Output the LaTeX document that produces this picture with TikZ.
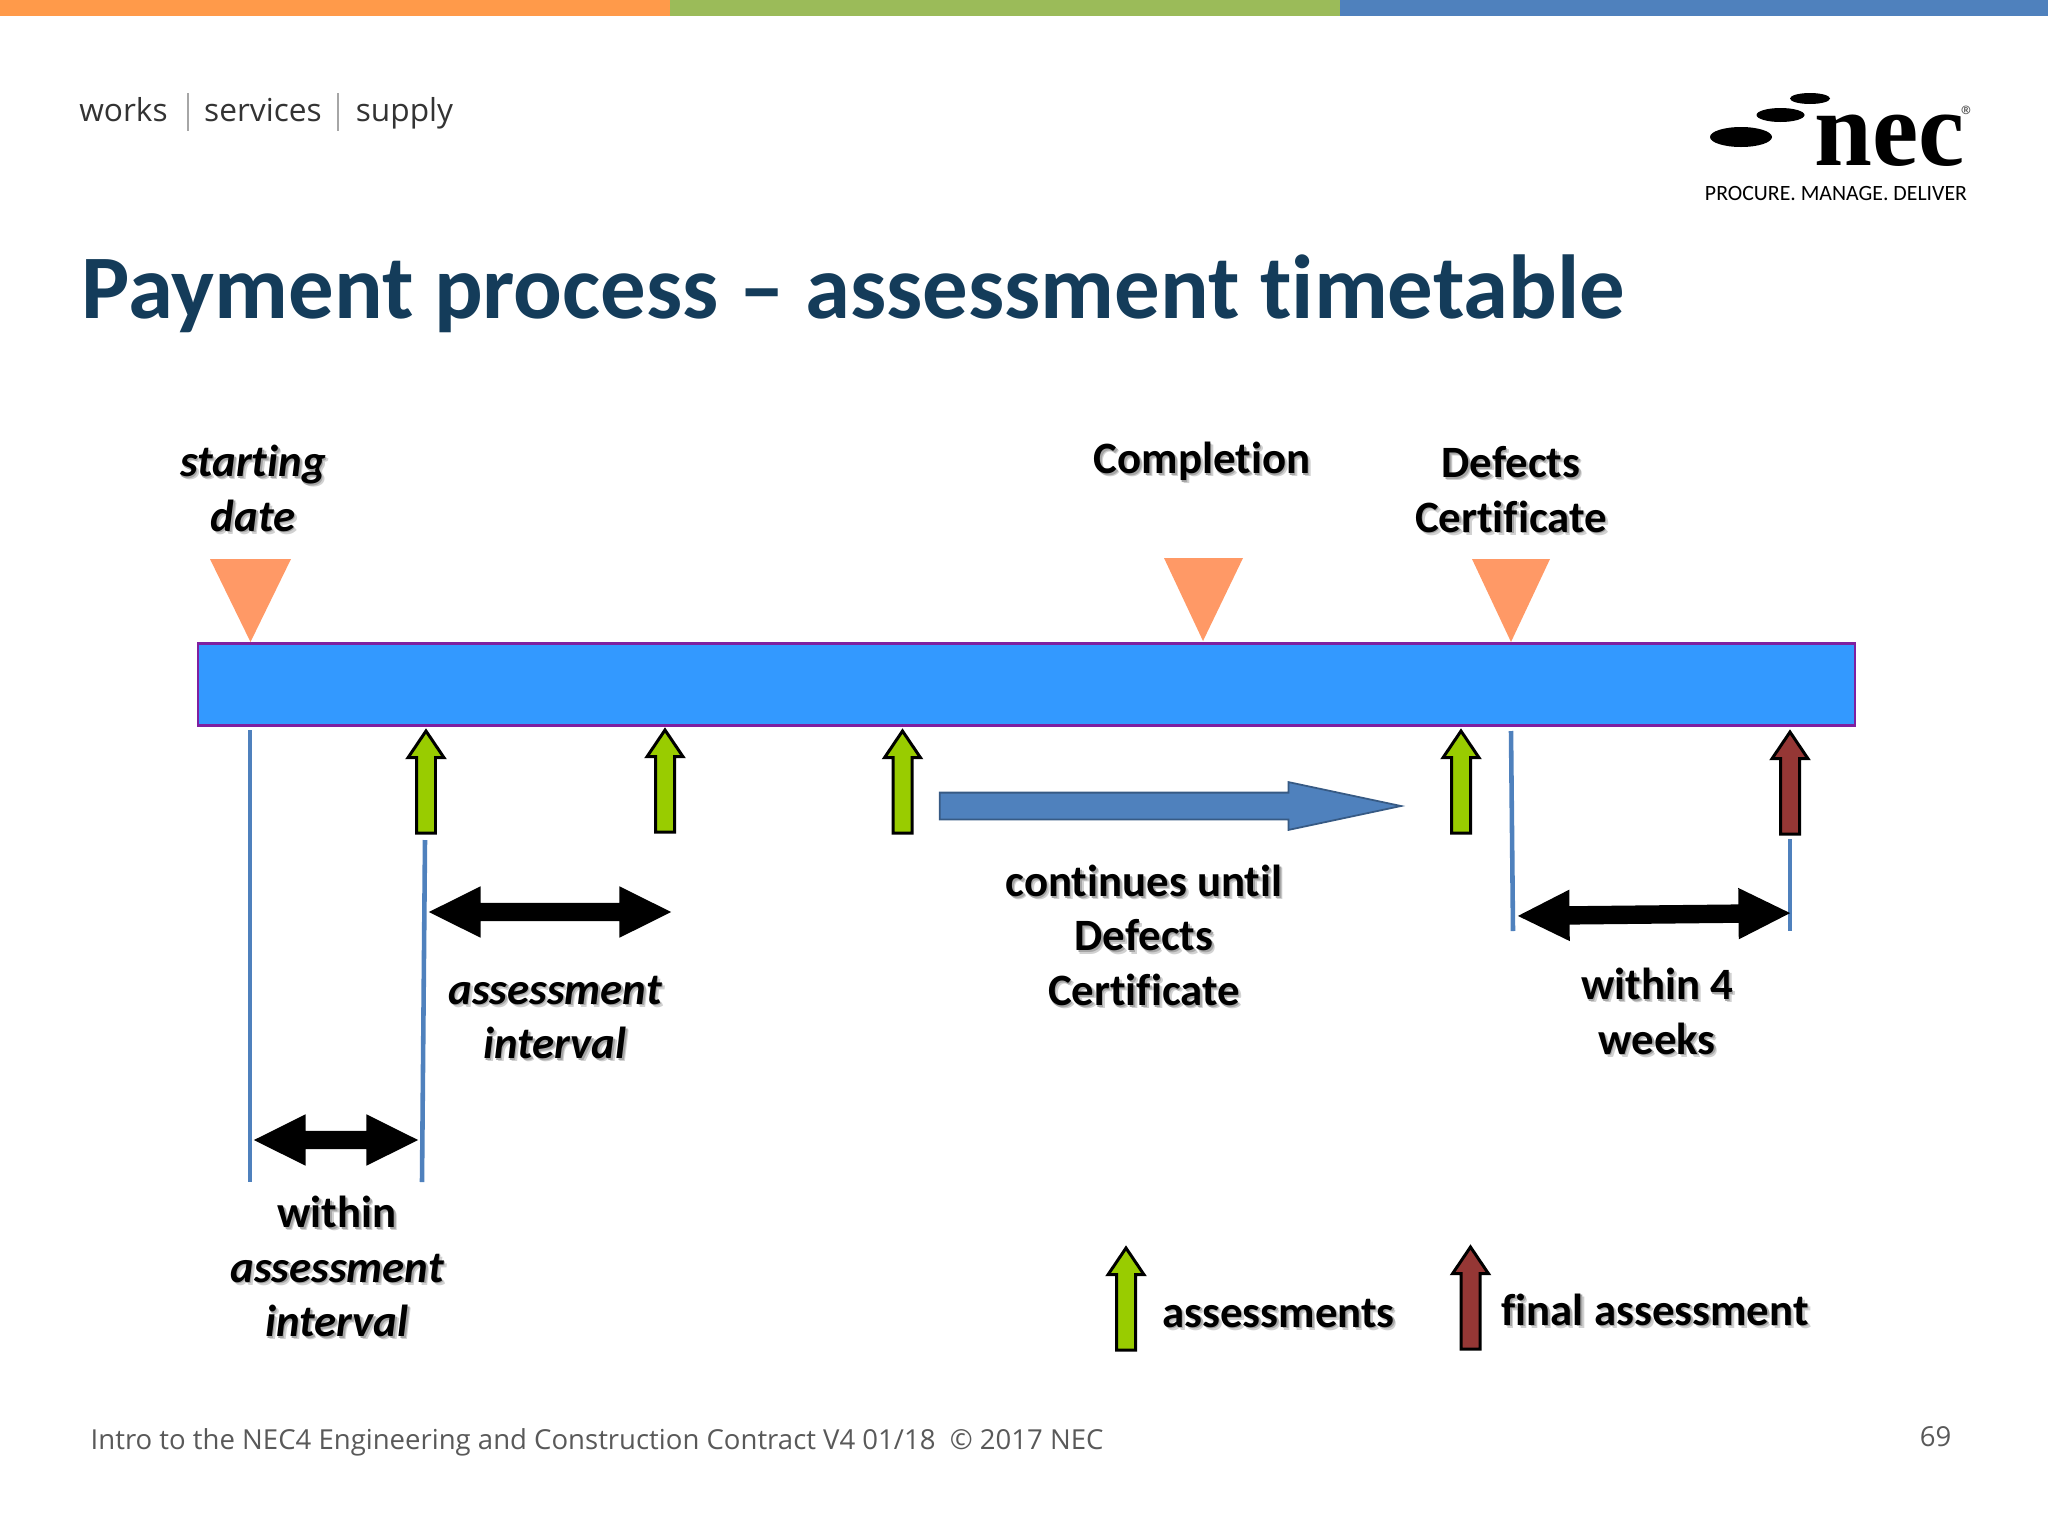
\documentclass[tikz,border=0pt]{standalone}
\usepackage{fontspec}
\setmainfont[Ligatures=NoCommon]{Carlito}
\newfontfamily\headfont{Open Sans}
\newfontfamily\logofont{Liberation Serif}
\usetikzlibrary{shapes.arrows}
\definecolor{bandorange}{HTML}{FF9A4A}
\definecolor{bandgreen}{HTML}{9BBB59}
\definecolor{bandblue}{HTML}{4F81BD}
\definecolor{titleblue}{HTML}{143C5A}
\definecolor{barblue}{HTML}{3399FF}
\definecolor{barpurple}{HTML}{7F1FA0}
\definecolor{markorange}{HTML}{FF9966}
\definecolor{assessgreen}{HTML}{99CC00}
\definecolor{finalred}{HTML}{953735}
\definecolor{footgray}{HTML}{595959}
\newcommand\shtxt[1]{\leavevmode\rlap{\kern.9pt\raisebox{-.9pt}{\textcolor{black!18}{#1}}}\rlap{\kern.45pt\raisebox{-.45pt}{\textcolor{black!35}{#1}}}#1}
\tikzset{
	lbl/.style={align=center,inner sep=0pt,font=\fontsize{12.75}{15.5}\selectfont\bfseries},
	headtxt/.style={inner sep=0pt,anchor=base,text=black!80,font=\headfont\fontsize{9}{10}\selectfont},
	foottxt/.style={inner sep=0pt,text=footgray,font=\headfont\fontsize{7.83}{10}\selectfont},
	marker/.style={fill=markorange},
	tickline/.style={bandblue,line width=1.3pt},
	upblock/.style={single arrow,draw=black,line width=.85pt,rotate=90,anchor=tip,inner sep=.08cm,outer sep=0pt,
		single arrow head extend=.085cm,single arrow tip angle=68,minimum height=1.02cm},
	bothblock/.style={double arrow,fill=black,inner sep=.085cm,outer sep=0pt,double arrow head extend=.165cm,double arrow tip angle=53},
}
\begin{document}
\begin{tikzpicture}[x=.01cm,y=-.01cm]
	\useasboundingbox(0,0)rectangle(2048,1536);
	% band on top
	\fill[bandorange](0,0)rectangle(670,16);
	\fill[bandgreen](670,0)rectangle(1340,16);
	\fill[bandblue](1340,0)rectangle(2048,16);
	% header
	\node[headtxt](works)at(123.5,121){works};
	\node[headtxt](services)at(263,121){services};
	\node[headtxt](supply)at(404.5,121){supply};
	\draw[black!35,line width=.3pt](188,93)--(188,131);
	\draw[black!35,line width=.3pt](338,93)--(338,131);
	% logo
	\fill(1741,137)ellipse(31 and 10);
	\fill(1780.5,115)ellipse(24 and 7);
	\fill(1810,98.5)ellipse(20 and 5.5);
	\node[inner sep=0pt,anchor=base west,font=\logofont\fontsize{30.5}{30}\selectfont\bfseries,xscale=.97](nec)at(1814,165){nec};
	\node[inner sep=0pt,text=black!70,font=\fontsize{8}{8}\selectfont](reg)at(1968,116){\textregistered};
	\node[inner sep=0pt,font=\fontsize{6.2}{7}\selectfont](tagline)at(1836,194){PROCURE. MANAGE. DELIVER};
	% title
	\node[inner sep=0pt,anchor=base west,text=titleblue,font=\fontsize{25.83}{28}\selectfont\bfseries](title)at(81,318){Payment process -- assessment timetable};
	% time bar
	\node[draw=barpurple,fill=barblue,line width=.8pt,inner sep=0pt,minimum width=16.56cm,minimum height=.82cm](bar)at(1026.5,684.7){};
	\fill[marker](210,559)--(291,559)--(250.5,642)--cycle;
	\fill[marker](1164,558)--(1243,558)--(1203,641)--cycle;
	\fill[marker](1472,559)--(1550,559)--(1511,642)--cycle;
	\node[lbl](starting)at(253,490){\shtxt{\itshape starting}\\\shtxt{\itshape date}};
	\node[lbl](completion)at(1202,463){\shtxt{Completion}};
	\node[lbl](defects)at(1511,491){\shtxt{Defects}\\\shtxt{Certificate}};
	% assessments
	\node[upblock,fill=assessgreen](up1)at(426,731){};
	\node[upblock,fill=assessgreen](up2)at(665,730){};
	\node[upblock,fill=assessgreen](up3)at(902.5,731){};
	\node[upblock,fill=assessgreen](up4)at(1461,731){};
	\node[upblock,fill=finalred](up5)at(1790,732){};
	\node[single arrow,draw=bandblue!70!black,fill=bandblue,line width=.5pt,anchor=tip,inner sep=.125cm,outer sep=0pt,
		single arrow head extend=.105cm,single arrow tip angle=24,minimum height=4.61cm](cont)at(1401,806){};
	% ticks
	\coordinate(t1a)at(250,730);\coordinate(t1b)at(250,1182);
	\coordinate(t2a)at(425,840);\coordinate(t2b)at(422,1182);
	\coordinate(t3a)at(1511,731);\coordinate(t3b)at(1513,931);
	\coordinate(t4a)at(1790,839);\coordinate(t4b)at(1790,931);
	\draw[tickline](t1a)--(t1b);
	\draw[tickline](t2a)--(t2b);
	\draw[tickline](t3a)--(t3b);
	\draw[tickline](t4a)--(t4b);
	\node[bothblock,minimum height=2.42cm](span1)at(550,912){};
	\node[bothblock,minimum height=1.64cm](span2)at(336,1140){};
	\node[bothblock,minimum height=2.72cm,rotate=.6](span3)at(1654,914.5){};
	\node[lbl](conttext)at(1144,937){\shtxt{continues until}\\\shtxt{Defects}\\\shtxt{Certificate}};
	\node[lbl](interval)at(555,1019){\shtxt{\itshape assessment}\\\shtxt{\itshape interval}};
	\node[lbl](weeks)at(1657,1013){\shtxt{within 4}\\\shtxt{weeks}};
	\node[lbl](within)at(337,1268){\shtxt{within}\\\shtxt{\itshape assessment}\\\shtxt{\itshape interval}};
	% key
	\node[upblock,fill=assessgreen](key1)at(1126,1248){};
	\node[upblock,fill=finalred](key2)at(1470.5,1247){};
	\node[lbl](key1text)at(1278.5,1315){\shtxt{assessments}};
	\node[lbl](key2text)at(1655,1311){\shtxt{final assessment}};
	% footer
	\node[foottxt,anchor=base west](foot)at(90,1449){Intro to the NEC4 Engineering and Construction Contract V4 01/18\ \ \textcopyright{} 2017 NEC};
	\node[foottxt](page)at(1935.5,1437){69};
\end{tikzpicture}
\end{document}
